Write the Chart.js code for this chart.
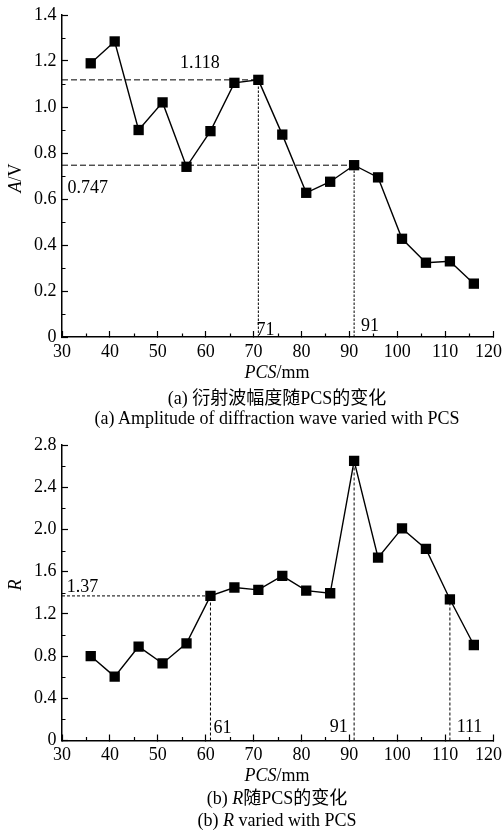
<!DOCTYPE html>
<html>
<head>
<meta charset="utf-8">
<script src="https://cdn.jsdelivr.net/npm/chart.js@4"></script>
<style>
body { margin: 0; background: #fff; width: 504px; height: 833px; position: relative; overflow: hidden;
       font-family: "Liberation Serif", "Times New Roman", "Noto Sans CJK SC", serif; color: #000; }
.box { position: absolute; left: 0; width: 504px; }
.txt { position: absolute; white-space: nowrap; font-size: 18px; line-height: 1; transform: translate(-50%, -50%); }
.rot { transform: translate(-50%, -50%) rotate(-90deg); }
</style>
</head>
<body>
<div class="box" style="top:0;height:380px"><canvas id="chartA"></canvas></div>
<div class="box" style="top:430px;height:360px"><canvas id="chartB"></canvas></div>

<div class="txt rot" style="left:15px;top:178px"><i>A</i>/V</div>
<div class="txt" style="left:277px;top:372px"><i>PCS</i>/mm</div>
<div class="txt" style="left:277px;top:398px">(a) 衍射波幅度随PCS的变化</div>
<div class="txt" style="left:277px;top:418px">(a) Amplitude of diffraction wave varied with PCS</div>

<div class="txt rot" style="left:15px;top:585px"><i>R</i></div>
<div class="txt" style="left:277px;top:775px"><i>PCS</i>/mm</div>
<div class="txt" style="left:277px;top:798px">(b) <i>R</i>随PCS的变化</div>
<div class="txt" style="left:277px;top:820px">(b) <i>R</i> varied with PCS</div>

<script>
// data
var pcs = [36, 41, 46, 51, 56, 61, 66, 71, 76, 81, 86, 91, 96, 101, 106, 111, 116];
var amplitude = [1.19, 1.285, 0.90, 1.02, 0.74, 0.895, 1.105, 1.118, 0.88, 0.627, 0.675, 0.747, 0.694, 0.427, 0.323, 0.329, 0.232];
var ratioR = [0.80, 0.605, 0.89, 0.73, 0.92, 1.37, 1.45, 1.427, 1.56, 1.42, 1.395, 2.65, 1.733, 2.01, 1.815, 1.338, 0.905];

// marked values: [pcs, level]
var markA = [[71, 1.118], [91, 0.747]];
var markB = [[61, 1.37], [91, 2.65], [111, 1.338]];
var hLinesA = [[71, 1.118], [91, 0.747]];
var hLinesB = [[61, 1.37]];

var FONT = '"Liberation Serif", "Times New Roman", serif';

function pts(xs, ys) {
    return xs.map(function(x, i) { return {x: x, y: ys[i]}; });
}

function refSets(marks, hlines, hDash, vDash) {
    var sets = [];
    hlines.forEach(function(m) {
        sets.push({data: [{x: 30, y: m[1]}, {x: m[0], y: m[1]}], borderDash: hDash});
    });
    marks.forEach(function(m) {
        sets.push({data: [{x: m[0], y: 0}, {x: m[0], y: m[1]}], borderDash: vDash});
    });
    return sets.map(function(s) {
        return {data: s.data, showLine: true, borderColor: '#000', borderWidth: 1,
                borderDash: s.borderDash, pointRadius: 0, order: 5};
    });
}

// text next to the dashed lines + short minor ticks
var notesPlugin = {
    id: 'notes',
    afterDatasetsDraw: function(chart, args, opts) {
        var ctx = chart.ctx;
        var xs = chart.scales.x, ys = chart.scales.y;
        var area = chart.chartArea;
        ctx.save();
        ctx.strokeStyle = '#000';
        ctx.lineWidth = 1.2;
        ctx.beginPath();
        var xStep = xs.options.ticks.stepSize, yStep = ys.options.ticks.stepSize;
        for (var v = xs.min + xStep / 2; v < xs.max; v += xStep) {
            var px = Math.round(xs.getPixelForValue(v)) + 0.5;
            ctx.moveTo(px, area.bottom);
            ctx.lineTo(px, area.bottom - 3.5);
        }
        for (var w = ys.min + yStep / 2; w < ys.max; w += yStep) {
            var py = Math.round(ys.getPixelForValue(w)) + 0.5;
            ctx.moveTo(area.left, py);
            ctx.lineTo(area.left + 3.5, py);
        }
        ctx.stroke();

        ctx.font = '18px ' + FONT;
        ctx.fillStyle = '#000';
        ctx.textAlign = 'center';
        ctx.textBaseline = 'middle';
        (opts.items || []).forEach(function(n) {
            ctx.fillText(n.text, xs.getPixelForValue(n.x), ys.getPixelForValue(n.y));
        });
        ctx.restore();
    }
};

function makeChart(id, values, refs, yMax, yStep, notes, xAxisH) {
    var ctx = document.getElementById(id).getContext('2d');
    return new Chart(ctx, {
        type: 'scatter',
        data: {
            datasets: [{
                data: pts(pcs, values),
                showLine: true,
                borderColor: '#000',
                borderWidth: 1.4,
                pointStyle: 'rect',
                pointRadius: 7.3,
                pointBackgroundColor: '#000',
                pointBorderColor: '#000',
                pointBorderWidth: 0,
                order: 1
            }].concat(refs)
        },
        options: {
            responsive: true,
            maintainAspectRatio: false,
            animation: false,
            layout: { padding: { top: 15, right: 11, left: 0, bottom: 0 } },
            plugins: {
                legend: { display: false },
                tooltip: { enabled: false },
                notes: { items: notes }
            },
            scales: {
                x: {
                    type: 'linear',
                    min: 30, max: 120,
                    border: { display: true, color: '#000', width: 1.5 },
                    grid: { drawOnChartArea: false, drawTicks: true, tickLength: -6, color: '#000', tickWidth: 1.2 },
                    ticks: {
                        stepSize: 10, autoSkip: false, maxRotation: 0, padding: 10,
                        color: '#000', font: { family: FONT, size: 18 },
                        // last label nudged left so it stays inside the page
                        callback: function(v) { return v === 120 ? '120\u2002' : String(v); }
                    },
                    afterFit: function(s) { s.height = xAxisH; s.paddingLeft = 0; s.paddingRight = 0; }
                },
                y: {
                    min: 0, max: yMax,
                    border: { display: true, color: '#000', width: 1.5 },
                    grid: { drawOnChartArea: false, drawTicks: true, tickLength: -6, color: '#000', tickWidth: 1.2 },
                    ticks: {
                        stepSize: yStep, autoSkip: false, padding: 11.5,
                        color: '#000', font: { family: FONT, size: 18 },
                        callback: function(v) { return v === 0 ? '0' : v.toFixed(1); }
                    },
                    afterFit: function(s) { s.width = 62; s.paddingTop = 0; s.paddingBottom = 0; }
                }
            }
        },
        plugins: [notesPlugin]
    });
}

makeChart('chartA', amplitude, refSets(markA, hLinesA, [6, 3], [2.5, 1.5]), 1.4, 0.2, [
    {x: 58.8, y: 1.19, text: '1.118'},
    {x: 35.4, y: 0.648, text: '0.747'},
    {x: 72.5, y: 0.03, text: '71'},
    {x: 94.3, y: 0.048, text: '91'}
], 43);

makeChart('chartB', ratioR, refSets(markB, hLinesB, [3, 2], [3, 2]), 2.8, 0.4, [
    {x: 34.3, y: 1.455, text: '1.37'},
    {x: 63.5, y: 0.118, text: '61'},
    {x: 87.8, y: 0.128, text: '91'},
    {x: 115.1, y: 0.128, text: '111'}
], 49.5);
</script>
</body>
</html>
